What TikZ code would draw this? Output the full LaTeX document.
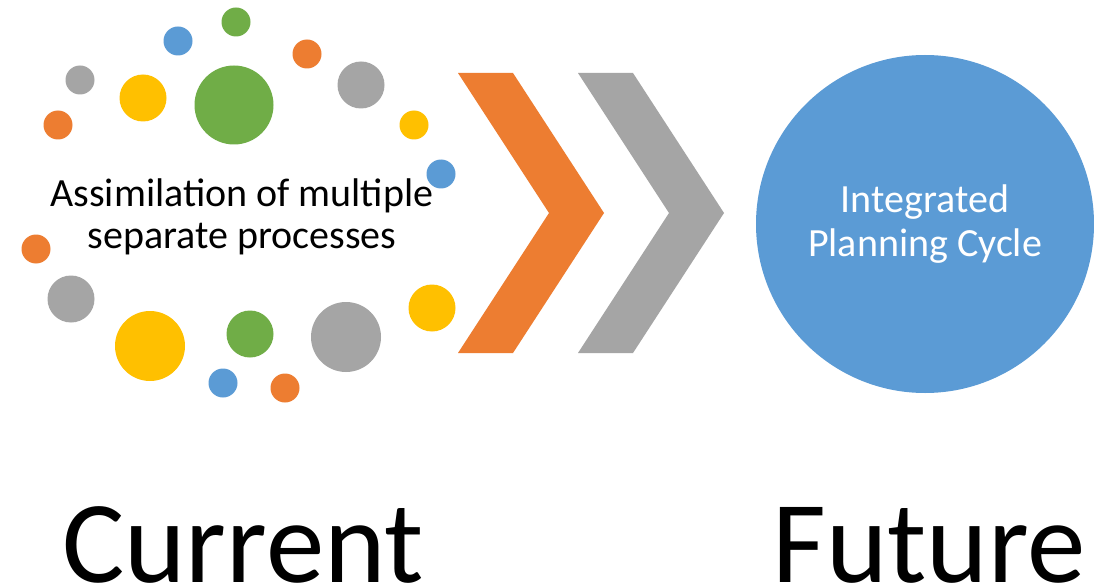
\documentclass[tikz,border=0pt]{standalone}
\usepackage{fontspec}
\setmainfont{Carlito}
\definecolor{cOrange}{HTML}{ED7D31}
\definecolor{cGray}{HTML}{A5A5A5}
\definecolor{cYellow}{HTML}{FFC000}
\definecolor{cBlue}{HTML}{5B9BD5}
\definecolor{cGreen}{HTML}{70AD47}
\tikzset{
  dot/.style={circle, inner sep=0pt, outer sep=0pt, draw=none, minimum size=#1},
  bigtext/.style={anchor=base, font=\fontsize{117}{120}\selectfont, inner sep=0pt, text depth=0pt},
}
\begin{document}
\begin{tikzpicture}[x=1pt,y=-1pt]
\useasboundingbox[fill=white] (0,0) rectangle (1094,588);
% scattered dots
\node[dot=29pt, fill=cGray]   (d1)  at (80,80) {};
\node[dot=29pt, fill=cOrange] (d2)  at (58,125) {};
\node[dot=29pt, fill=cBlue]   (d3)  at (178,41) {};
\node[dot=29pt, fill=cGreen]  (d4)  at (236,22) {};
\node[dot=47pt, fill=cYellow] (d5)  at (143,98) {};
\node[dot=79pt, fill=cGreen]  (d6)  at (234,105) {};
\node[dot=29pt, fill=cOrange] (d7)  at (307,54) {};
\node[dot=47pt, fill=cGray]   (d8)  at (361,85) {};
\node[dot=29pt, fill=cYellow] (d9)  at (414,125) {};
\node[dot=29pt, fill=cBlue]   (d10) at (441,174) {};
\node[dot=29pt, fill=cOrange] (d11) at (36,249) {};
\node[dot=47pt, fill=cGray]   (d12) at (71,299) {};
\node[dot=70pt, fill=cYellow] (d13) at (150,346) {};
\node[dot=47pt, fill=cGreen]  (d14) at (250,334) {};
\node[dot=70pt, fill=cGray]   (d15) at (346,337) {};
\node[dot=47pt, fill=cYellow] (d16) at (432,308) {};
\node[dot=29pt, fill=cBlue]   (d17) at (223,383) {};
\node[dot=29pt, fill=cOrange] (d18) at (285,388) {};
% text of the current state
\node[align=center, font=\fontsize{40}{42}\selectfont, inner sep=0pt] (cur) at (242,217)
  {Assimilation of multiple\\separate processes};
% chevrons
\fill[cOrange] (458,73) -- (513,73) -- (604,213) -- (513,353) -- (458,353) -- (549,213) -- cycle;
\fill[cGray]   (578,73) -- (633,73) -- (724,213) -- (633,353) -- (578,353) -- (669,213) -- cycle;
% future circle
\node[circle, fill=cBlue, minimum size=338pt, inner sep=0pt] (fut) at (925,224) {};
\node[align=center, text=white, font=\fontsize{40}{44}\selectfont, inner sep=0pt] (futtxt) at (fut.center)
  {Integrated\\Planning Cycle};
% labels
\node[bigtext] (lcur) at (243,582) {Current};
\node[bigtext] (lfut) at (929,582) {Future};
\end{tikzpicture}
\end{document}
